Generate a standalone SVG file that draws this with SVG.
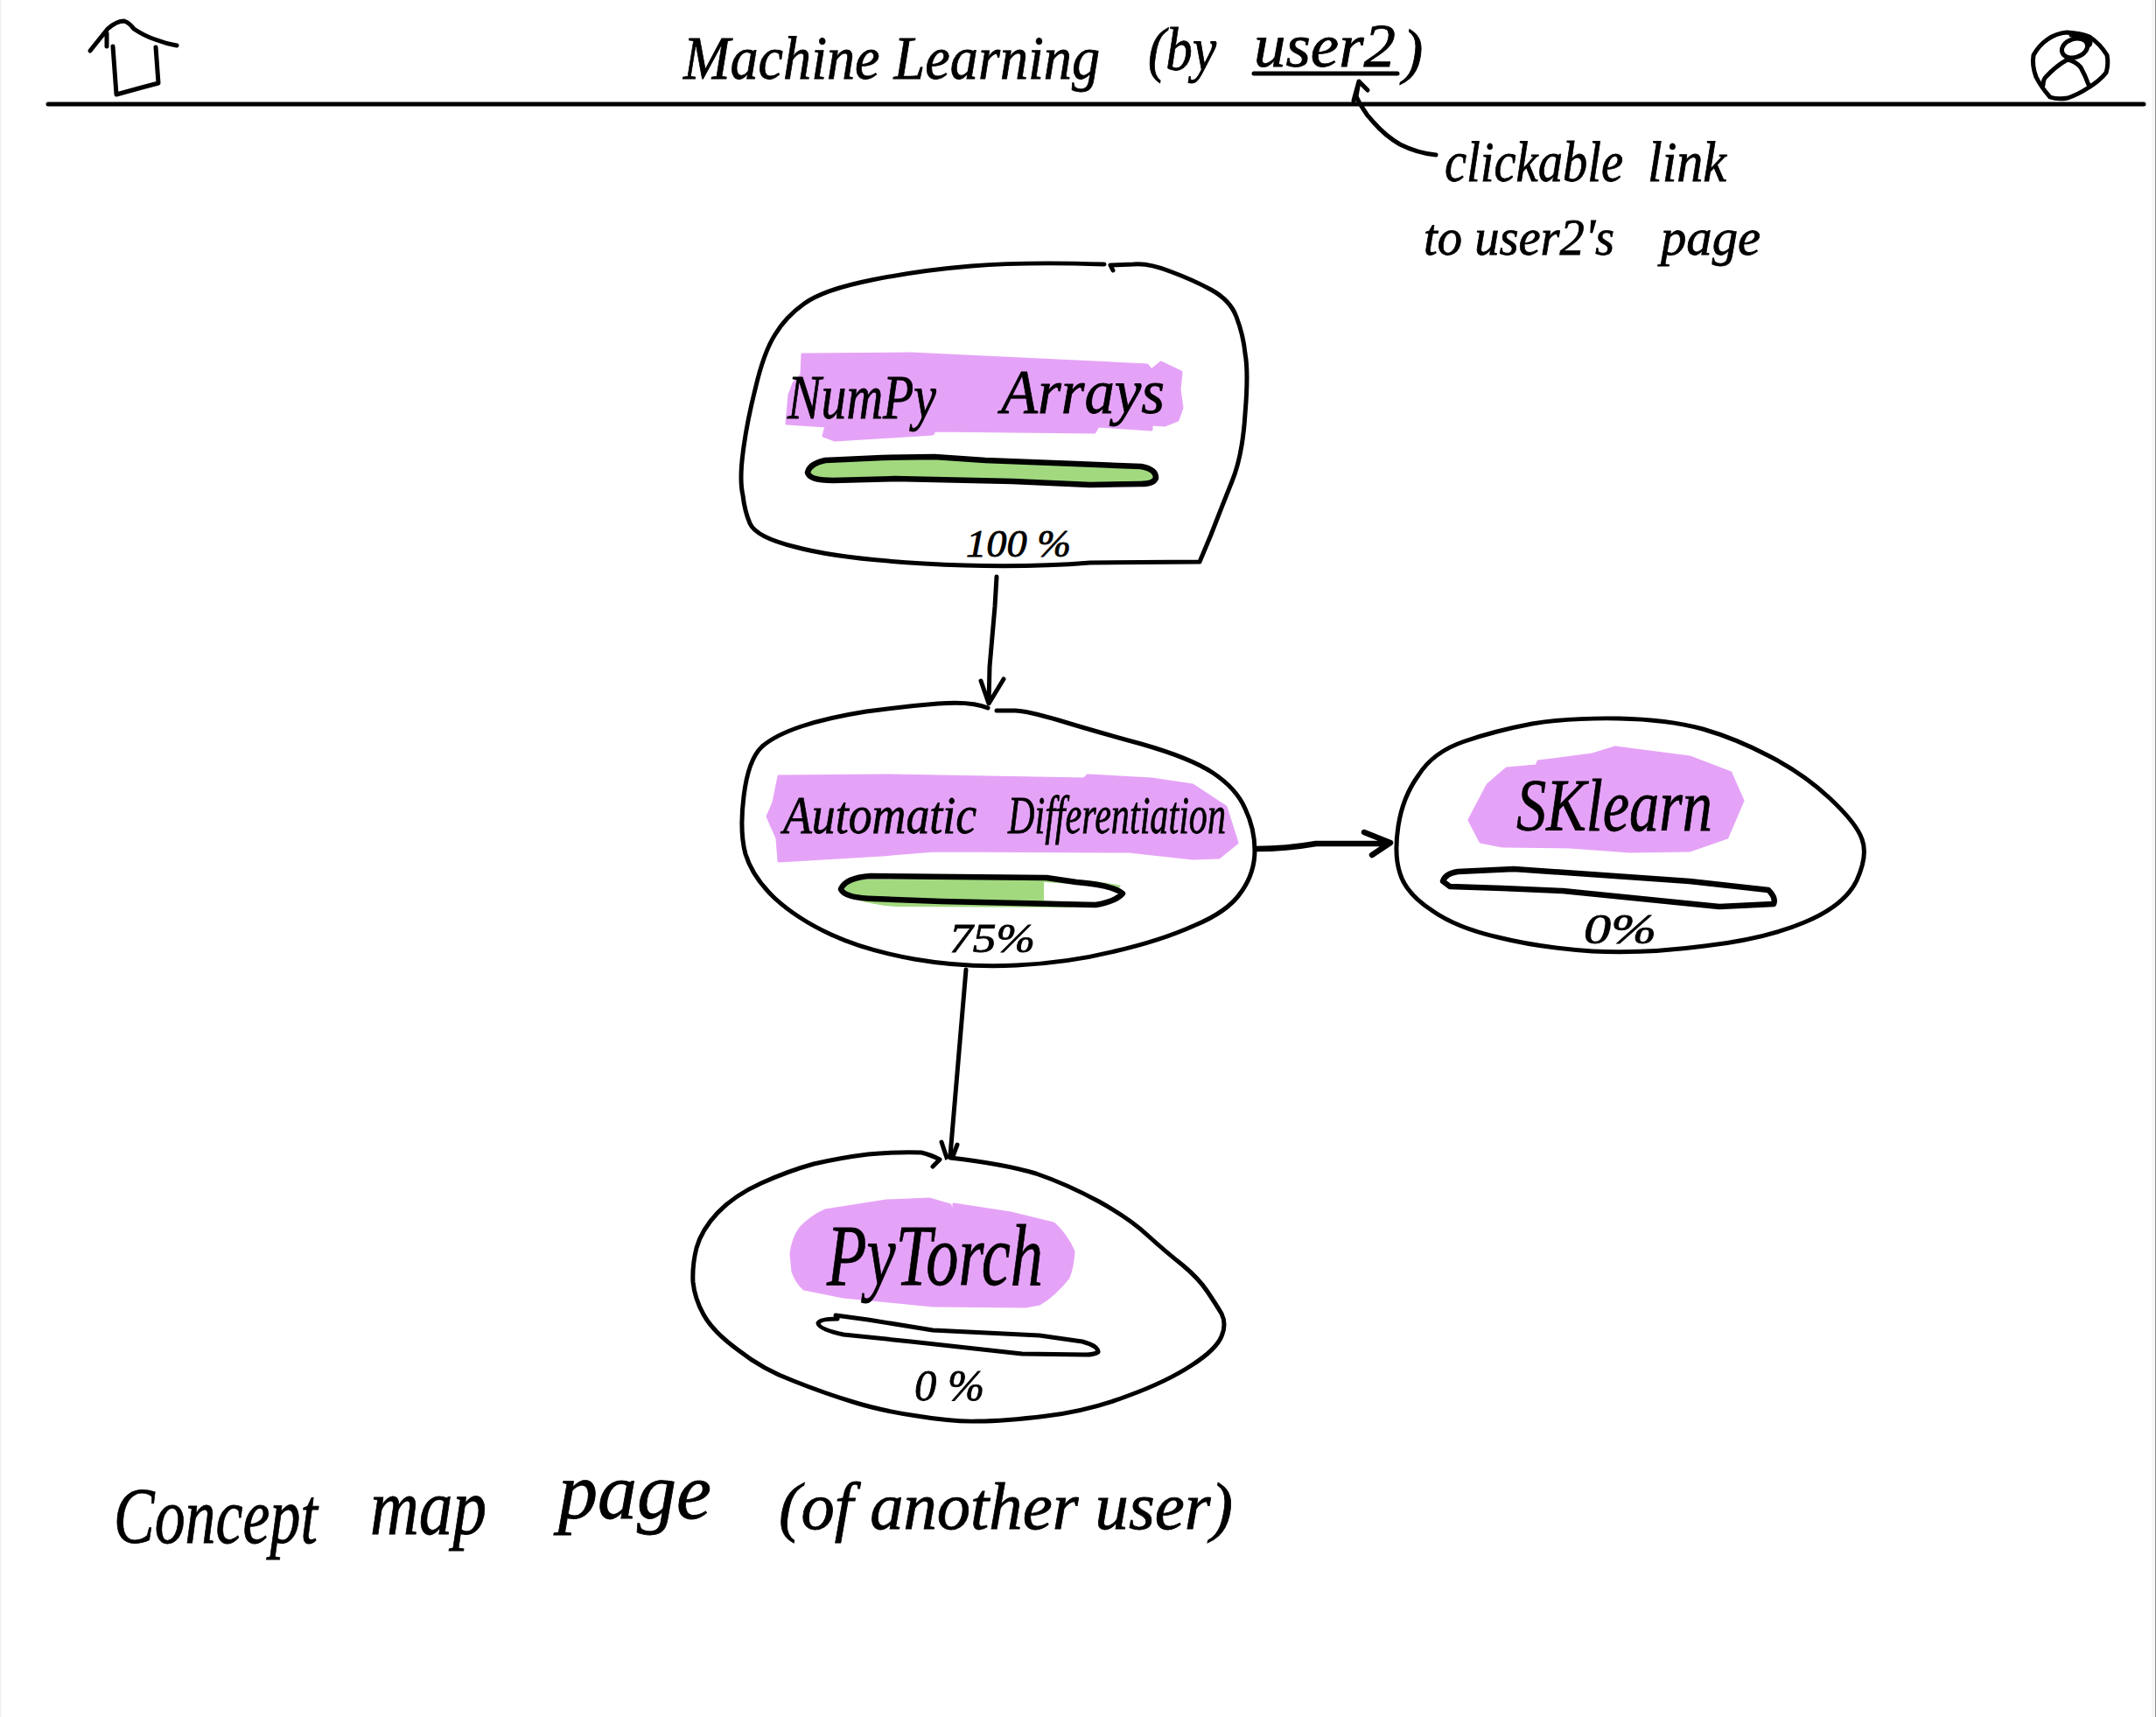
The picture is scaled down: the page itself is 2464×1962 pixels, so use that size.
<svg xmlns="http://www.w3.org/2000/svg" width="2464" height="1962" viewBox="0 0 2464 1962">
<style>
.ink{fill:none;stroke:#000;stroke-width:5;stroke-linecap:round;stroke-linejoin:round}
.thick{stroke-width:6.5}
.blob{fill:#fff;stroke:#000;stroke-width:5;stroke-linecap:round;stroke-linejoin:round}
.pink{fill:#e5a3f7;stroke:#e5a3f7;stroke-width:3;stroke-linejoin:round}
.green{fill:#a2d97f}
.hand{font-family:"Liberation Serif",serif;font-style:italic;fill:#000;stroke:#000;stroke-width:.8}
</style>
<rect width="2464" height="1962" fill="#fff"/>
<rect x="0" width="1.5" height="1962" fill="#f0f0f0"/>
<rect x="2459" width="4" height="1962" fill="#f6f6f6"/>
<rect x="2463" width="1" height="1962" fill="#8a8a8a"/>
<g id="header">
<path class="ink" d="M55 119H2450"/>
<g id="home-icon"><path class="ink" d="M103 58L123 33Q133 24 142 24Q148 26 153 33Q165 41 177 45Q190 50 202 52M122 38V53M129 53L133 108L162 100L181 95L178 54"/></g>
<g id="user-icon"><path class="ink" d="M2362 37Q2378 38 2388 42Q2400 50 2408 63Q2410 73 2407 83Q2400 92 2387 100Q2375 108 2363 112Q2352 114 2343 111Q2333 100 2327 88Q2322 75 2324 63Q2330 52 2340 45Q2350 38 2362 37Z"/><ellipse class="ink" cx="2371" cy="55" rx="15" ry="10.5" transform="rotate(-18 2371 55)"/><path class="ink" d="M2335 97Q2335 91 2338 88Q2350 75 2363 68Q2372 70 2378 77Q2383 86 2387 97M2367 40Q2380 41 2387 45Q2391 49 2387 52"/></g>
<text id="title" class="hand" font-size="70"><tspan x="781" y="90" textLength="476" lengthAdjust="spacingAndGlyphs">Machine Learning</tspan> <tspan x="1312" y="80" textLength="78" lengthAdjust="spacingAndGlyphs">(by</tspan> <tspan x="1433" y="76" textLength="162" lengthAdjust="spacingAndGlyphs">user2</tspan><tspan x="1603" y="82">)</tspan></text>
<path class="ink" d="M1433 84H1597"/>
</g>
<g id="annotation">
<path class="ink" d="M1641 177Q1620 175 1600 165Q1583 155 1570 140Q1562 132 1557 123Q1552 115 1550 110L1553 93M1547 115L1553 93L1563 103"/>
<text class="hand" font-size="66"><tspan x="1651" y="207" textLength="204" lengthAdjust="spacingAndGlyphs">clickable</tspan> <tspan x="1883" y="207" textLength="90" lengthAdjust="spacingAndGlyphs">link</tspan></text>
<text class="hand" font-size="60"><tspan x="1627" y="291" textLength="218" lengthAdjust="spacingAndGlyphs">to user2's</tspan> <tspan x="1898" y="291" textLength="114" lengthAdjust="spacingAndGlyphs">page</tspan></text>
</g>
<g id="connectors">
<path class="ink" d="M1139 659L1137 693L1131 762L1130 804M1121 778L1130 804L1147 776"/>
<path class="ink thick" d="M1435 970Q1470 970 1504 964H1585M1559 951L1589 963L1568 977"/>
<path class="ink" d="M1104 1108L1094 1226L1085 1332M1076 1305L1085 1332L1094 1308"/>
</g>
<g id="node-numpy">
<path class="blob" d="M1272 309L1269 303L1295 302Q1312 300 1337 310Q1364 320 1384 331Q1406 343 1413 362Q1421 383 1423 404Q1427 425 1423 473Q1420 521 1408 550Q1396 580 1384 611L1371 642L1246 643Q1157 650 1056 644Q956 638 909 625Q864 614 857 598Q851 584 849 566Q845 549 849 518Q853 485 863 445Q873 402 886 382Q898 362 919 347Q941 331 996 320Q1050 309 1110 304Q1170 299 1262 302"/>
<path class="pink" d="M917 405L1041 404L1311 417L1316 423L1327 414L1350 425L1348 445L1351 466L1346 480L1331 486L1316 485L1316 491L1255 487L1251 494L1068 492L1066 496L954 503L941 498L944 487L899 484L902 451L907 438L916 428Z"/>
<text class="hand" font-size="72"><tspan x="900" y="478" textLength="170" lengthAdjust="spacingAndGlyphs">NumPy</tspan> <tspan x="1144" y="472" textLength="187" lengthAdjust="spacingAndGlyphs">Arrays</tspan></text>
<path class="green" d="M923 540Q925 530 943 526L1008 523L1068 522L1126 526L1229 530L1304 533Q1321 536 1321 546Q1319 553 1304 553L1246 554L1157 550L1023 547L952 549Q925 549 923 540Z"/>
<path class="ink thick" d="M923 540Q925 530 943 526L1008 523L1068 522L1126 526L1229 530L1304 533Q1321 536 1321 546Q1319 553 1304 553L1246 554L1157 550L1023 547L952 549Q925 549 923 540Z"/>
<text class="hand" font-size="44" x="1104" y="636" textLength="120" lengthAdjust="spacingAndGlyphs">100 %</text>
</g>
<g id="node-autodiff">
<path class="blob" d="M1139 812L1160 812Q1172 812 1210 823Q1249 835 1304 850Q1360 866 1386 883Q1413 901 1423 924Q1434 947 1434 972Q1434 998 1418 1020Q1403 1042 1364 1058Q1326 1075 1274 1087Q1222 1100 1162 1103Q1102 1106 1045 1096Q989 1086 950 1068Q911 1050 885 1026Q860 1002 852 976Q845 950 850 910Q855 868 871 853Q886 840 916 830Q946 820 990 813Q1034 807 1072 804Q1111 801 1129 809"/>
<path class="pink" d="M890 887L1012 886L1239 890L1243 886L1316 890L1363 897L1401 922L1414 963L1393 980L1363 981L1290 973L1068 972L1008 977L890 984L888 958L877 933L884 917Z"/>
<text class="hand" font-size="62"><tspan x="895" y="952" textLength="221" lengthAdjust="spacingAndGlyphs">Automatic</tspan> <tspan x="1152" y="952" textLength="249" lengthAdjust="spacingAndGlyphs">Differentiation</tspan></text>
<path class="green" d="M964 1017Q968 1007 987 1005L1192 1003Q1250 1005 1281 1012Q1270 1030 1222 1037L1025 1036Q972 1032 964 1017Z"/>
<path fill="#fff" d="M1193 1008L1273 1013L1277 1023L1247 1033L1193 1029Z"/>
<path class="ink thick" d="M961 1016Q966 1003 995 1001L1196 1003L1230 1008Q1270 1011 1283 1021Q1275 1030 1252 1034L1076 1030L999 1027Q965 1026 961 1016Z"/>
<text class="hand" font-size="46" x="1085" y="1088" textLength="98" lengthAdjust="spacingAndGlyphs">75%</text>
</g>
<g id="node-sklearn">
<path class="blob" d="M1751 827Q1794 820 1850 821Q1905 822 1946 833Q1984 844 2022 864Q2061 884 2091 912Q2122 941 2128 959Q2135 977 2122 1006Q2108 1035 2062 1054Q2017 1073 1948 1081Q1880 1090 1820 1087Q1760 1083 1712 1071Q1664 1060 1636 1040Q1607 1021 1600 998Q1593 977 1598 944Q1603 911 1621 886Q1638 859 1674 847Q1709 835 1751 827Z"/>
<path class="pink" d="M1846 854L1931 865L1978 883L1992 915L1974 957L1931 972L1863 973L1794 968L1717 967L1692 962L1679 937L1700 897L1722 878L1756 875L1758 870L1820 862Z"/>
<text class="hand" font-size="84" x="1733" y="949" textLength="224" lengthAdjust="spacingAndGlyphs">SKlearn</text>
<path class="ink thick" d="M1649 1007Q1652 998 1666 996L1730 993L1931 1007L2021 1017Q2030 1026 2027 1033L1965 1036L1786 1018L1717 1015L1657 1013Z"/>
<text class="hand" font-size="48" x="1810" y="1078" textLength="83" lengthAdjust="spacingAndGlyphs">0%</text>
</g>
<g id="node-pytorch">
<path class="blob" d="M1086 1323Q1147 1330 1184 1341Q1219 1353 1256 1373Q1292 1393 1312 1412Q1333 1431 1352 1446Q1370 1461 1380 1476Q1390 1491 1396 1501Q1402 1513 1396 1527Q1390 1542 1362 1560Q1333 1579 1289 1595Q1245 1612 1196 1618Q1147 1624 1118 1624Q1090 1625 1048 1618Q1007 1612 975 1602Q942 1592 907 1578Q872 1565 844 1543Q815 1522 804 1502Q794 1484 792 1465Q791 1446 796 1426Q802 1405 820 1386Q839 1366 870 1352Q901 1338 930 1330Q960 1323 992 1319Q1025 1316 1053 1317Q1065 1320 1074 1325L1066 1333"/>
<path class="pink" d="M904 1433Q906 1415 915 1403Q927 1390 943 1383L1013 1372L1062 1370L1086 1377L1089 1393L1090 1376L1155 1386L1204 1398Q1218 1410 1227 1430Q1226 1448 1221 1460Q1205 1480 1188 1490L1172 1493L1066 1492L964 1482L919 1473Q910 1465 906 1453Z"/>
<text class="hand" font-size="100" x="945" y="1468" textLength="247" lengthAdjust="spacingAndGlyphs">PyTorch</text>
<path class="ink" d="M955 1503L992 1508L1066 1520L1188 1526L1237 1533Q1255 1538 1255 1545Q1250 1548 1241 1548L1168 1547L1041 1533L964 1525Q936 1519 935 1512Q937 1507 957 1507"/>
<text class="hand" font-size="50" x="1045" y="1600" textLength="80" lengthAdjust="spacingAndGlyphs">0 %</text>
</g>
<text id="caption" class="hand" font-size="90"><tspan x="130" y="1763" textLength="233" lengthAdjust="spacingAndGlyphs">Concept</tspan> <tspan x="423" y="1753" textLength="133" lengthAdjust="spacingAndGlyphs">map</tspan> <tspan x="638" y="1735" textLength="175" lengthAdjust="spacingAndGlyphs">page</tspan> <tspan x="890" y="1747" textLength="519" lengthAdjust="spacingAndGlyphs" font-size="76">(of another user)</tspan></text>
</svg>
